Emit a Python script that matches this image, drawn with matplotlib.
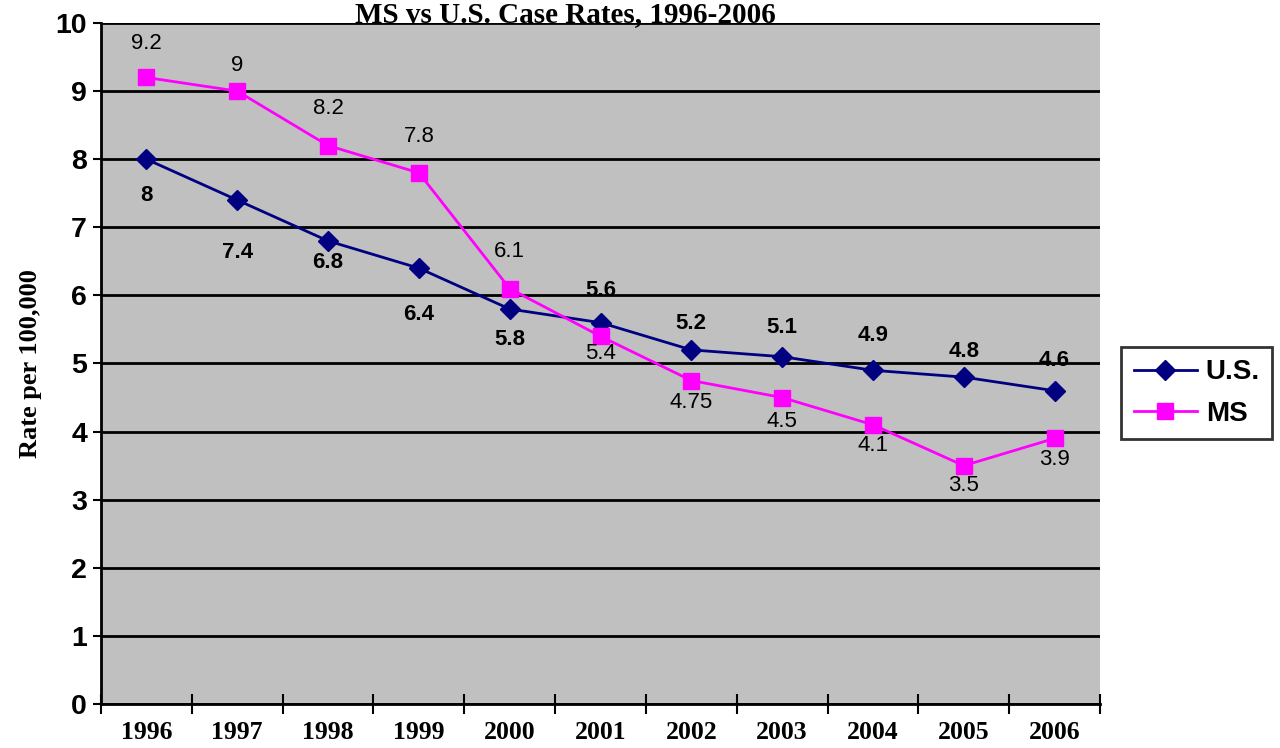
import numpy as np
import matplotlib
matplotlib.use("Agg")
import matplotlib.pyplot as plt

years = ["1996", "1997", "1998", "1999", "2000", "2001", "2002", "2003", "2004", "2005", "2006"]
us_rate = [8, 7.4, 6.8, 6.4, 5.8, 5.6, 5.2, 5.1, 4.9, 4.8, 4.6]
ms_rate = [9.2, 9, 8.2, 7.8, 6.1, 5.4, 4.75, 4.5, 4.1, 3.5, 3.9]
us_labels = ["8", "7.4", "6.8", "6.4", "5.8", "5.6", "5.2", "5.1", "4.9", "4.8", "4.6"]
ms_labels = ["9.2", "9", "8.2", "7.8", "6.1", "5.4", "4.75", "4.5", "4.1", "3.5", "3.9"]

# label offsets in pixels (Excel placed them a bit irregularly)
us_off = [-36, -52, -22, -46, -30, 32, 26, 29, 35, 26, 30]
ms_off = [34, 26, 37, 36, 37, -17, -22, -24, -21, -20, -21]

fig = plt.figure(figsize=(12.8, 7.48), dpi=100)
ax = fig.add_axes([101/1280, 1-704/748, (1100-101)/1280, (704-23)/748])
ax.set_facecolor("#C0C0C0")

x = np.arange(len(years))
ax.plot(x, us_rate, color="#000080", lw=2, marker="D", ms=10, label="U.S.", zorder=3)
ax.plot(x, ms_rate, color="#FF00FF", lw=2, marker="s", ms=11.5, label="MS", zorder=3)

for xi, v, t, o in zip(x, us_rate, us_labels, us_off):
    ax.annotate(t, (xi, v), xytext=(0, o), textcoords="offset pixels",
                ha="center", va="center", fontsize=16, fontweight="bold",
                family="Liberation Sans", zorder=4)
for xi, v, t, o in zip(x, ms_rate, ms_labels, ms_off):
    ax.annotate(t, (xi, v), xytext=(0, o), textcoords="offset pixels",
                ha="center", va="center", fontsize=16,
                family="Liberation Sans", zorder=4)

ax.set_xlim(-0.5, len(years) - 0.5)
ax.set_ylim(0, 10)
ax.set_yticks(range(0, 11))
ax.yaxis.grid(True, color="black", lw=2)
ax.set_axisbelow(True)
ax.set_xticks(x)
ax.set_xticklabels(years, fontsize=18.5, fontweight="bold", family="Liberation Serif")
ax.set_xticks(np.arange(-0.5, len(years), 1), minor=True)
ax.tick_params(axis="x", which="major", length=0, pad=12)
ax.tick_params(axis="x", which="minor", direction="inout", length=14, width=1.5)
ax.tick_params(axis="y", direction="out", length=6, width=1.5, pad=4)
for lab in ax.get_yticklabels():
    lab.set_fontsize(20.5)
    lab.set_fontweight("bold")
    lab.set_family("Liberation Sans")

for s in ["top", "right"]:
    ax.spines[s].set_visible(False)
for s in ["left", "bottom"]:
    ax.spines[s].set_linewidth(2)

ax.set_ylabel("Rate per 100,000", fontsize=19, fontweight="bold", family="Liberation Serif", labelpad=10)

fig.text(565/1280, 1-1/748, "MS vs U.S. Case Rates, 1996-2006", ha="center", va="top",
         fontsize=21, fontweight="bold", family="Liberation Serif")

leg = fig.legend(loc="center left", bbox_to_anchor=(1121/1280, 1-393/748),
                 prop={"family": "Liberation Sans", "weight": "bold", "size": 20},
                 frameon=True, fancybox=False, edgecolor="black", handlelength=2.3,
                 borderpad=0.45, labelspacing=0.55, handletextpad=0.3, borderaxespad=0)
leg.get_frame().set_linewidth(2)

fig.savefig("out.png", dpi=100)
